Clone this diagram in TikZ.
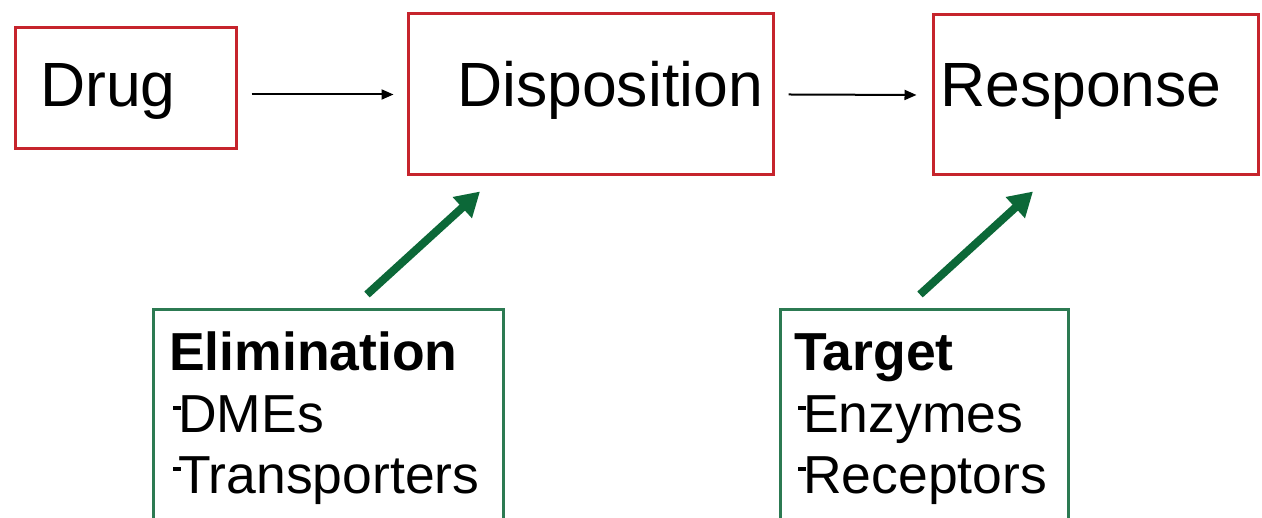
\documentclass[tikz,border=0pt]{standalone}
\usepackage{fontspec}
\setmainfont{Liberation Sans}
\usetikzlibrary{arrows.meta,calc}
\definecolor{boxred}{RGB}{198,36,44}
\definecolor{boxgreen}{RGB}{44,122,82}
\definecolor{arrgreen}{RGB}{12,104,56}
\newcommand\smalldash{\hspace{4pt}\rule[23pt]{8pt}{3.5pt}\hspace{-3pt}}
\tikzset{
  redbox/.style={draw=boxred, line width=3pt, inner sep=0pt, minimum width=#1},
  greenbox/.style={draw=boxgreen, line width=3pt, inner sep=0pt, minimum width=#1},
  bigtxt/.style={anchor=base west, inner sep=0pt, font=\fontsize{62.5}{70}\selectfont},
  smalltxt/.style={anchor=base west, inner sep=0pt, font=\fontsize{53.5}{60}\selectfont},
  thinarrow/.style={draw=black, line width=2pt, -{Triangle[length=12pt,width=10pt]}},
  greenarrow/.style={draw=arrgreen, line width=8pt, -{Triangle[length=24pt,width=27pt]}}
}
\begin{document}
\begin{tikzpicture}[x=1pt,y=1pt]
\useasboundingbox (0,0) rectangle (1262,518);
\clip (0,0) rectangle (1262,518);
\fill[white] (0,0) rectangle (1262,518);
% red boxes
\node[redbox=221pt, minimum height=121pt] (drug) at (125.5,429.5) {};
\node[redbox=365pt, minimum height=161pt] (disp) at (590.5,423.5) {};
\node[redbox=325pt, minimum height=160pt] (resp) at (1095.5,423) {};
% green boxes
\node[greenbox=350pt, minimum height=250pt] (elim) at (328,83) {};
\node[greenbox=288pt, minimum height=250pt] (targ) at (924,83) {};
% top labels
\node[bigtxt] (tdrug) at (40,411) {Drug};
\node[bigtxt] (tdisp) at (457,411) {Disposition};
\node[bigtxt] (tresp) at (940,411) {Response};
% bottom labels
\node[smalltxt] (e1) at (169,147) {\textbf{Elimination}};
\node[smalltxt] (e2) at (169,85) {\smalldash DMEs};
\node[smalltxt] (e3) at (169,24) {\smalldash Transporters};
\node[smalltxt] (t1) at (794,147) {\textbf{Target}};
\node[smalltxt] (t2) at (794,85) {\smalldash Enzymes};
\node[smalltxt] (t3) at (794,24) {\smalldash Receptors};
% black arrows
\draw[thinarrow] ($(drug.east |- disp.west)+(14,0)$) -- ($(disp.west)+(-13,0)$);
\draw[thinarrow] ($(disp.east)+(14,0)$) -- ($(resp.west)+(-15,0)$);
% green arrows
\draw[greenarrow] ($(elim.north)+(39,14)$) -- ($(disp.south)+(-110.5,-15)$);
\draw[greenarrow] ($(targ.north)+(-4,14)$) -- ($(resp.south)+(-62.5,-15)$);
\end{tikzpicture}
\end{document}
